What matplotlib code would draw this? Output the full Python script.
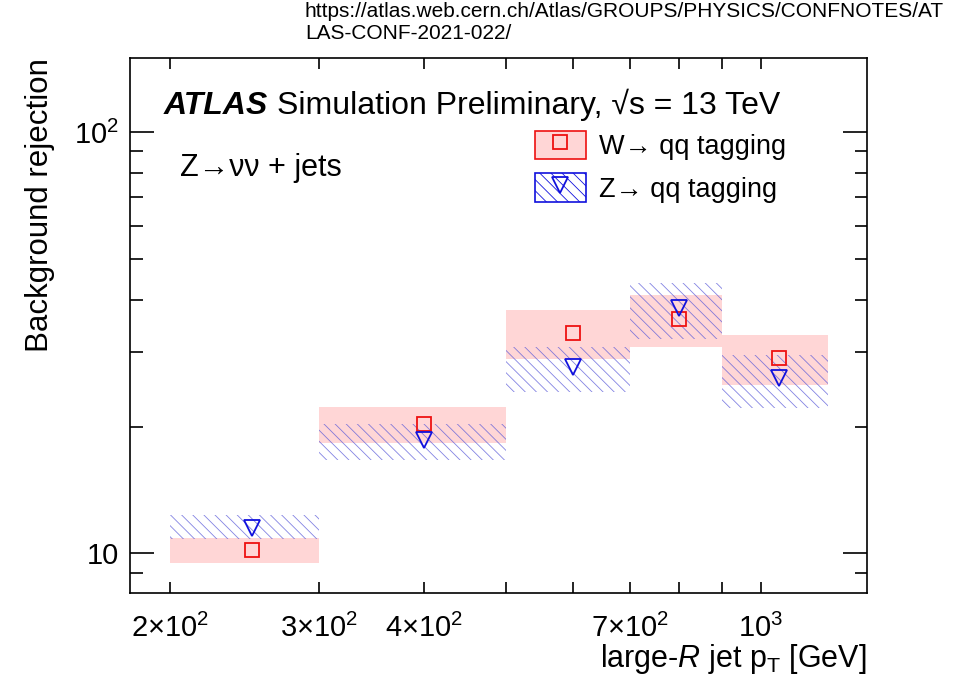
import numpy as np
import matplotlib
matplotlib.use('Agg')
import matplotlib.pyplot as plt
from matplotlib.patches import Patch
from matplotlib.lines import Line2D
from matplotlib.ticker import FixedLocator, NullFormatter

plt.rcParams['font.family'] = ['Liberation Sans', 'DejaVu Sans']
plt.rcParams['mathtext.fontset'] = 'custom'
plt.rcParams['mathtext.rm'] = 'Liberation Sans'
plt.rcParams['mathtext.it'] = 'Liberation Sans:italic'
plt.rcParams['mathtext.bf'] = 'Liberation Sans:bold'
plt.rcParams['hatch.linewidth'] = 0.6

# pT bins [GeV]
bin_edges = [200, 300, 500, 700, 900, 1200]
bin_centers = [250, 400, 600, 800, 1050]

# W -> qq tagging: background rejection and band
w_val = [10.2, 20.3, 33.4, 36.1, 29.1]
w_lo = [9.5, 18.3, 29.0, 30.9, 25.1]
w_hi = [10.9, 22.3, 37.9, 41.1, 33.0]

# Z -> qq tagging
z_val = [11.5, 18.6, 27.7, 38.3, 26.1]
z_lo = [10.8, 16.7, 24.2, 32.3, 22.1]
z_hi = [12.3, 20.3, 30.9, 43.9, 29.6]

xtick_vals = [200, 300, 400, 700, 1000]
xtick_labels = [r'$2{\times}10^2$', r'$3{\times}10^2$', r'$4{\times}10^2$', r'$7{\times}10^2$', r'$10^3$']

pink = '#ffd6d6'
hatch_col = (0.35, 0.35, 0.85, 0.75)
red = '#ee1111'
blue = '#1111dd'

fig = plt.figure(figsize=(9.57, 6.82), dpi=100)
ax = fig.add_axes([130/957, 89/682, 737/957, 535/682])
ax.set_xscale('log')
ax.set_yscale('log')

for i in range(len(bin_centers)):
	x0, x1 = bin_edges[i], bin_edges[i+1]
	ax.fill_between([x0, x1], w_lo[i], w_hi[i], facecolor=pink, edgecolor='none', lw=0, zorder=1)
for i in range(len(bin_centers)):
	x0, x1 = bin_edges[i], bin_edges[i+1]
	ax.fill_between([x0, x1], z_lo[i], z_hi[i], facecolor='none', edgecolor=hatch_col, hatch='\\\\\\', lw=0, zorder=2)

ax.plot(bin_centers, w_val, ls='none', marker='s', ms=10, mfc='none', mec=red, mew=1.3, zorder=4)
ax.plot(bin_centers, z_val, ls='none', marker='v', ms=11, mfc='none', mec=blue, mew=1.3, zorder=4)

ax.set_xlim(179.5, 1335)
ax.set_ylim(8.05, 150)

ax.xaxis.set_major_locator(FixedLocator(xtick_vals))
ax.xaxis.set_minor_locator(FixedLocator([500, 600, 800, 900]))
ax.set_xticklabels(xtick_labels)
ax.xaxis.set_minor_formatter(NullFormatter())
ax.yaxis.set_major_locator(FixedLocator([10, 100]))
ax.set_yticklabels(['10', r'$10^2$'])
ax.yaxis.set_minor_locator(FixedLocator([8, 9, 20, 30, 40, 50, 60, 70, 80, 90]))
ax.yaxis.set_minor_formatter(NullFormatter())

ax.tick_params(axis='both', which='both', direction='in', top=True, right=True, width=1.2, labelsize=21)
ax.tick_params(axis='x', which='both', length=8, pad=15)
ax.tick_params(axis='y', which='major', length=17, pad=8)
ax.tick_params(axis='y', which='minor', length=9)
for s in ax.spines.values():
	s.set_linewidth(1.2)

ax.set_ylabel('Background rejection', fontsize=22.5, loc='top', labelpad=14)
ax.set_xlabel(r'large-$R$ jet p$_{\mathrm{T}}$ [GeV]', fontsize=22, loc='right', labelpad=-1)

ax.text(0.045, 0.895, 'ATLAS', transform=ax.transAxes, fontsize=23, fontweight='bold', fontstyle='italic')
ax.text(0.2, 0.895, 'Simulation Preliminary, √s = 13 TeV', transform=ax.transAxes, fontsize=23)
ax.text(0.068, 0.78, 'Z→νν + jets', transform=ax.transAxes, fontsize=22)

h_w = (Patch(facecolor=pink, edgecolor=red, lw=1.2),
	Line2D([], [], ls='none', marker='s', ms=10, mfc='none', mec=red, mew=1.3))
h_z = (Patch(facecolor='white', edgecolor=blue, hatch='\\\\\\', lw=1.2),
	Line2D([], [], ls='none', marker='v', ms=11, mfc='none', mec=blue, mew=1.3))
ax.legend([h_w, h_z], ['W→ qq tagging', 'Z→ qq tagging'], loc='upper left',
	bbox_to_anchor=(0.517, 0.91), frameon=False, fontsize=19.5, handlelength=1.85, handleheight=1.25,
	labelspacing=0.5, handletextpad=0.5)

fig.text(305/957, 1-17/682, 'https://atlas.web.cern.ch/Atlas/GROUPS/PHYSICS/CONFNOTES/AT', fontsize=15)
fig.text(305/957, 1-39/682, 'LAS-CONF-2021-022/', fontsize=15)

fig.savefig('out.png', dpi=100)
